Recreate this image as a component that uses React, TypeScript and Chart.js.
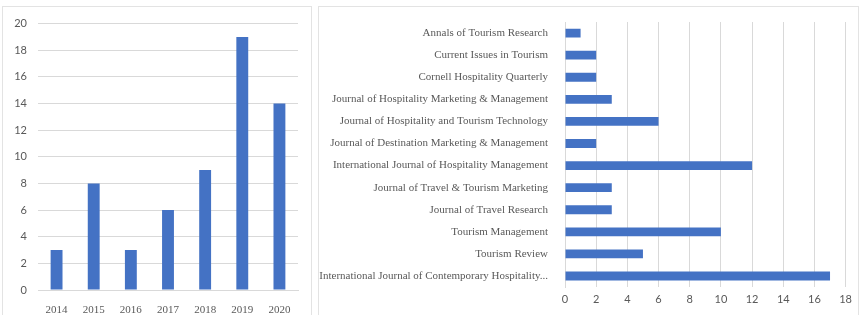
import React, { useEffect, useRef } from "react";
import { Chart, registerables } from "chart.js";
Chart.register(...registerables);

const years = ["2014", "2015", "2016", "2017", "2018", "2019", "2020"];
const yearCounts = [3, 8, 3, 6, 9, 19, 14];

const journals = [
  "Annals of Tourism Research",
  "Current Issues in Tourism",
  "Cornell Hospitality Quarterly",
  "Journal of Hospitality Marketing & Management",
  "Journal of Hospitality and Tourism Technology",
  "Journal of Destination Marketing & Management",
  "International Journal of Hospitality Management",
  "Journal of Travel & Tourism Marketing",
  "Journal of Travel Research",
  "Tourism Management",
  "Tourism Review",
  "International Journal of Contemporary Hospitality...",
];
const journalCounts = [1, 2, 2, 3, 6, 2, 12, 3, 3, 10, 5, 17];

const BAR = "#4472C4";
const GRID = "#d9d9d9";
const TXT = "#595959";

function LeftChart() {
  const ref = useRef<HTMLCanvasElement>(null);
  useEffect(() => {
    const c = new Chart(ref.current!, {
      type: "bar",
      data: {
        labels: years,
        datasets: [{ data: yearCounts, backgroundColor: BAR, categoryPercentage: 0.8, barPercentage: 0.4 }],
      },
      options: {
        animation: false,
        responsive: false,
        layout: { padding: { top: 16, right: 13, left: 0, bottom: 0 } },
        plugins: { legend: { display: false }, tooltip: { enabled: false } },
        scales: {
          x: {
            grid: { display: false },
            border: { color: GRID },
            ticks: { color: TXT, font: { family: "Liberation Serif", size: 11 }, padding: 6, maxRotation: 0 },
            afterFit: (s: any) => { s.height = 25; },
          },
          y: {
            min: 0,
            max: 20,
            ticks: { stepSize: 2, color: TXT, font: { family: "Lato", size: 11 }, padding: 11 },
            grid: { color: GRID, drawTicks: false },
            border: { display: false },
            afterFit: (s: any) => { s.width = 36; },
          },
        },
      },
    });
    return () => c.destroy();
  }, []);
  return <canvas ref={ref} width={309} height={309} />;
}

function RightChart() {
  const ref = useRef<HTMLCanvasElement>(null);
  useEffect(() => {
    const c = new Chart(ref.current!, {
      type: "bar",
      data: {
        labels: journals,
        datasets: [{ data: journalCounts, backgroundColor: BAR, categoryPercentage: 0.8, barPercentage: 0.5 }],
      },
      options: {
        indexAxis: "y",
        animation: false,
        responsive: false,
        layout: { padding: { top: 16, right: 8, left: 0, bottom: 0 } },
        plugins: { legend: { display: false }, tooltip: { enabled: false } },
        scales: {
          x: {
            min: 0,
            max: 18,
            ticks: { stepSize: 2, color: TXT, font: { family: "Lato", size: 11 }, padding: 6 },
            grid: { color: GRID, drawTicks: false },
            border: { display: false },
            afterFit: (s: any) => { s.height = 28; },
          },
          y: {
            grid: { display: false },
            border: { color: GRID },
            ticks: { color: TXT, font: { family: "Liberation Serif", size: 11 }, padding: 9, autoSkip: false },
            afterFit: (s: any) => { s.width = 247; },
          },
        },
      },
    });
    return () => c.destroy();
  }, []);
  return <canvas ref={ref} width={540} height={309} />;
}

export default function App() {
  const panel = { position: "absolute" as const, background: "#fff", border: "1px solid #e3e3e3", boxSizing: "border-box" as const, overflow: "hidden" };
  return (
    <div style={{ position: "fixed", left: 0, top: 0, width: 860, height: 315, background: "#fff", overflow: "hidden" }}>
      <div style={{ ...panel, left: 2, top: 6, width: 310, height: 320 }}>
        <div style={{ position: "absolute", left: -1, top: -1 }}><LeftChart /></div>
      </div>
      <div style={{ ...panel, left: 318, top: 6, width: 541, height: 320 }}>
        <div style={{ position: "absolute", left: -1, top: -1 }}><RightChart /></div>
      </div>
    </div>
  );
}
